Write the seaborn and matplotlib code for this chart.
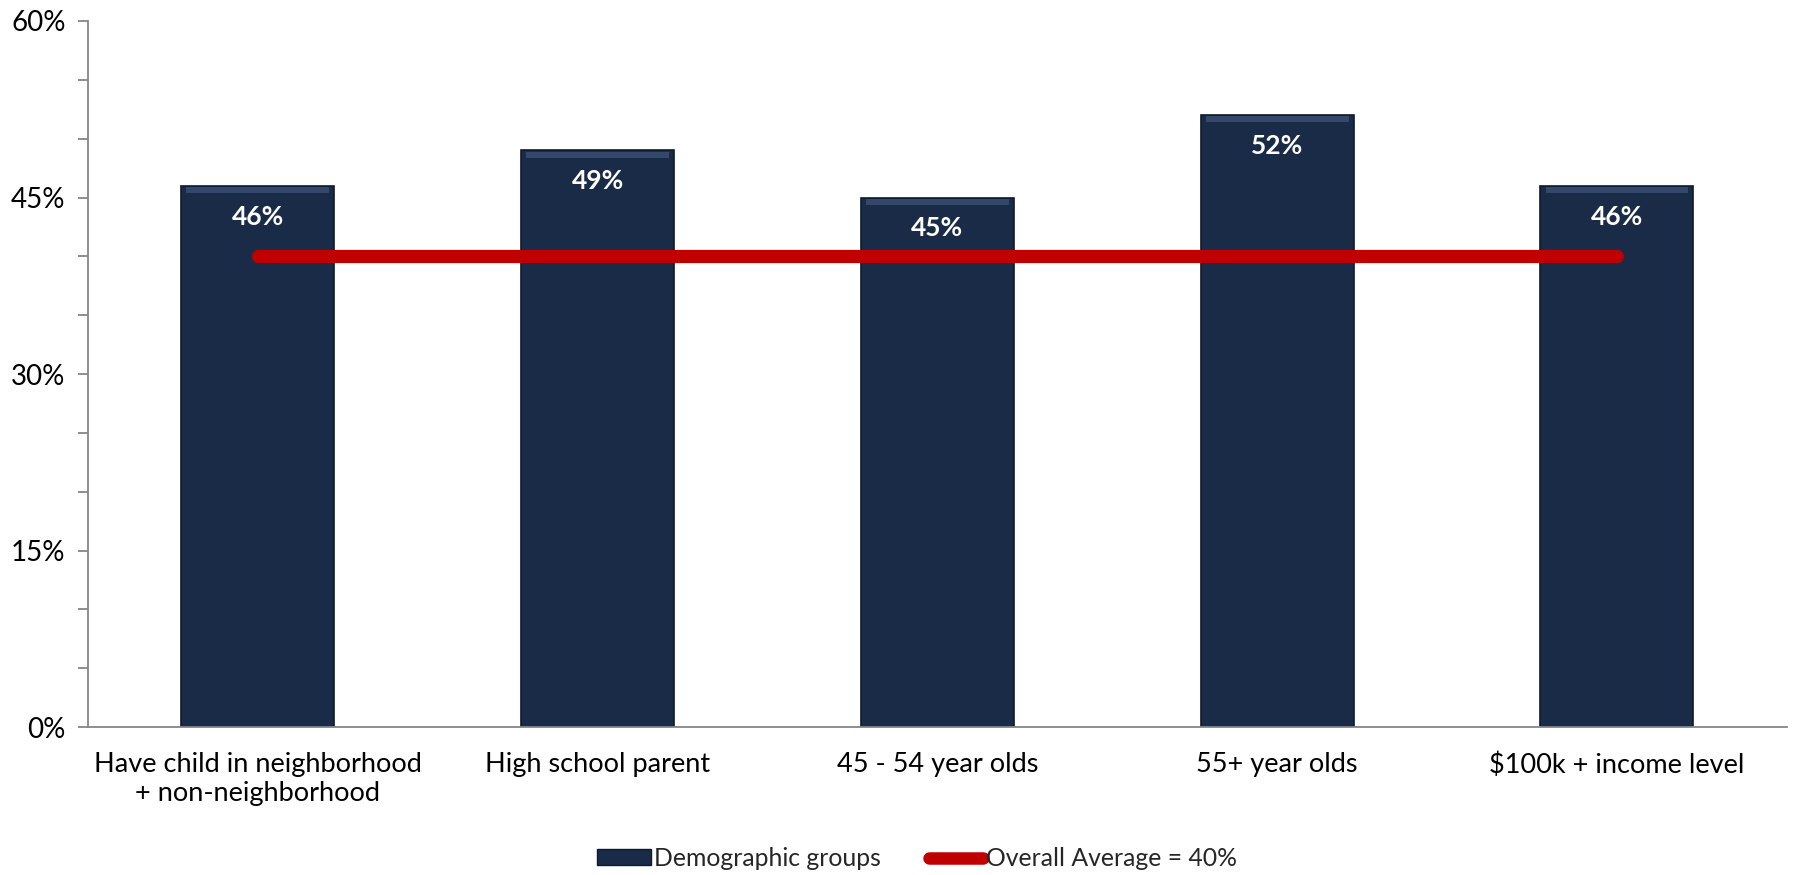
import matplotlib
matplotlib.use("Agg")
import matplotlib.pyplot as plt
import seaborn as sns
import pandas as pd
from matplotlib.lines import Line2D
from matplotlib.patches import Patch
from matplotlib.ticker import MultipleLocator, FuncFormatter

categories = ["Have child in neighborhood\n+ non-neighborhood",
              "High school parent",
              "45 - 54 year olds",
              "55+ year olds",
              "$100k + income level"]
group_values = [46, 49, 45, 52, 46]
overall_average = 40
bar_label = "Demographic groups"
line_label = "Overall Average = 40%"

sns.set_theme(style="white")
plt.rcParams["font.family"] = ["Lato", "DejaVu Sans"]

df = pd.DataFrame({"group": categories, "value": group_values})

fig = plt.figure(figsize=(17.94, 8.75), dpi=100)
ax = fig.add_axes([0.049, 0.169, 0.947, 0.807])

bar_color = "#1a2b47"
sns.barplot(data=df, x="group", y="value", color=bar_color, width=0.45,
            saturation=1, ax=ax, edgecolor="#0e1a2e", linewidth=1.2)

# soft bevel along the top of each bar
for p in ax.patches:
    x0, w, h = p.get_x(), p.get_width(), p.get_height()
    ax.fill_between([x0 + 0.015, x0 + w - 0.015], h - 0.6, h - 0.1,
                    color="#3e5475", alpha=0.75, lw=0, zorder=p.get_zorder() + 0.1)

# overall average line across the bar centres
xs = list(range(len(categories)))
ax.plot([xs[0], xs[-1]], [overall_average, overall_average], color="#c00000",
        lw=9.5, solid_capstyle="round", zorder=5)

for x, v in zip(xs, group_values):
    ax.text(x, v - 1.6, f"{v}%", ha="center", va="top", color="white",
            fontsize=19, fontweight="bold", zorder=6)

ax.set_xlim(-0.5, len(categories) - 0.5)
ax.set_ylim(0, 60)
ax.yaxis.set_major_locator(MultipleLocator(15))
ax.yaxis.set_minor_locator(MultipleLocator(5))
ax.yaxis.set_major_formatter(FuncFormatter(lambda v, _: f"{v:.0f}%"))

ax.set_xticks([i - 0.5 for i in range(len(categories) + 1)], minor=True)
ax.set_xticks(xs)
ax.set_xticklabels(categories, fontsize=19.5, color="black")
ax.tick_params(axis="x", which="major", length=0, pad=18)
ax.tick_params(axis="x", which="minor", length=9, width=1.3, color="#868686", direction="out")
ax.tick_params(axis="y", which="both", length=7, width=1.3, color="#868686",
               direction="out", labelsize=20, labelcolor="black", left=True, pad=9)
ax.set_xlabel("")
ax.set_ylabel("")

for side in ["top", "right"]:
    ax.spines[side].set_visible(False)
for side in ["left", "bottom"]:
    ax.spines[side].set_color("#868686")
    ax.spines[side].set_linewidth(1.3)

handles = [Patch(facecolor=bar_color, edgecolor="#0e1a2e", label=bar_label),
           Line2D([0], [0], color="#c00000", lw=9, solid_capstyle="round", label=line_label)]
fig.legend(handles=handles, loc="center", bbox_to_anchor=(0.511, 0.019), ncol=2,
           frameon=False, fontsize=17.8, handlelength=2.2, handleheight=0.6,
           handletextpad=0.1, columnspacing=1.95)

fig.savefig("out.png", dpi=100)
